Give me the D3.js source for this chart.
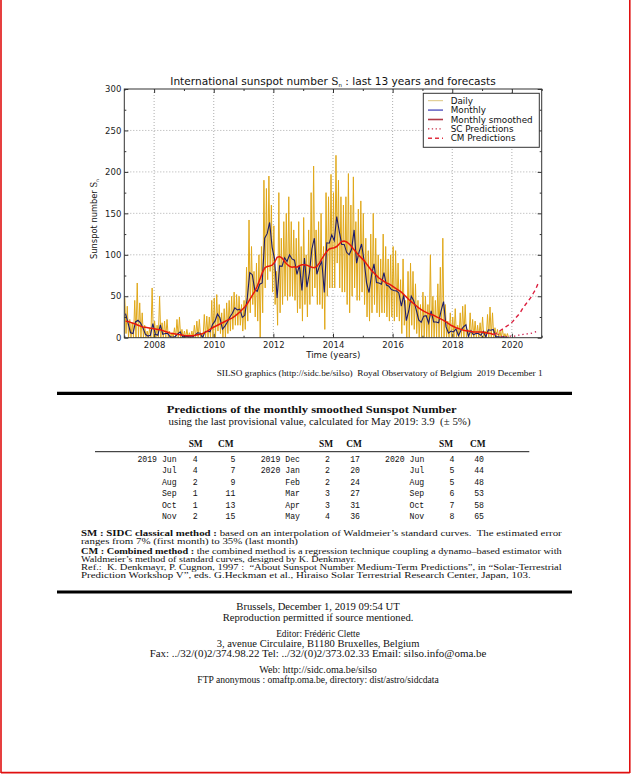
<!DOCTYPE html>
<html>
<head>
<meta charset="UTF-8">
<script src="https://d3js.org/d3.v7.min.js"></script>
<style>
  body { margin: 0; background: #fff; }
  svg { display: block; }
</style>
</head>
<body>
<svg></svg>
<script>
// all series are monthly, starting Jan 2007
const startYear = 2007;

// monthly mean sunspot number, Jan 2007 - Nov 2019
const monthlySN = [
  29, 18, 6, 5, 19, 21, 18, 12, 4, 2, 3, 17,              // 2007
  4, 3, 15.5, 4, 5, 5, 1, 0.5, 1.5, 4.5, 7, 1,            // 2008
  1.5, 1.5, 1, 1.2, 3, 6, 5.5, 0, 7, 8, 7, 16,            // 2009
  20, 28.5, 24, 10.5, 14, 19, 25, 29.5, 36, 33.5, 34.5, 24.5,   // 2010
  27, 48, 78.5, 76, 58, 56, 64.5, 66, 120, 125.5, 139, 109,     // 2011
  94.5, 48, 86.5, 86, 96.5, 92, 100, 95, 93.5, 76.5, 87.5, 57,  // 2012
  96, 61, 78, 107, 120, 76.5, 86, 92, 54.5, 114.5, 114, 124,    // 2013
  117, 146, 128.5, 112.5, 112.5, 103, 100, 107, 130, 90, 103.5, 113, // 2014
  93, 66.5, 54.5, 75.5, 89, 66.5, 66, 64.5, 78.5, 63.5, 62, 58, // 2015
  57, 56.5, 54, 38, 51.5, 20.5, 32.5, 50, 44.5, 33.5, 21.5, 18.5, // 2016
  26, 26.5, 17.5, 32.5, 19, 19, 18, 32.5, 43.5, 13, 5.5, 8,     // 2017
  7, 10.5, 2.5, 9, 13, 15.5, 1.5, 8.5, 3.5, 5, 5, 3,            // 2018
  7.5, 1, 9.5, 9, 10, 1, 1, 0.5, 1, 0.5, 0.5                    // 2019
];

// 13-month smoothed, Jan 2007 - May 2019
const smoothedSN = [
  20, 19.5, 18.5, 17.5, 16.5, 15, 14, 13, 12.5, 12, 11.5, 11,
  10.5, 10, 9.5, 8.5, 7.5, 6.5, 5.5, 5, 4.5, 4, 3.5, 3,
  2.5, 2.5, 2.5, 2.5, 3, 3.5, 4, 5, 6.5, 8, 10, 12,
  13.5, 15, 16.5, 18, 19.5, 21, 22.5, 24, 26, 28.5, 31, 34,
  37, 41, 46, 51, 56, 62, 70, 78, 84, 86, 86.5, 87.5,
  91, 97, 98, 96, 92, 88.5, 86, 85, 85.5, 85, 87, 88,
  88, 87.5, 86, 85, 84.5, 86, 90, 95, 100, 104, 107, 108,
  108.5, 110, 113, 116, 116.5, 115.5, 113, 110, 106, 102.5, 99, 96,
  93, 89, 85, 81, 78, 75, 72, 70, 68, 66, 65, 63,
  61, 59, 57, 55, 52, 49, 46, 43.5, 41, 38.5, 36, 34,
  32, 30.5, 29, 28, 27, 25.5, 24, 22.5, 21, 19, 17, 15,
  13.5, 12, 11, 10, 9, 8.5, 8, 7.5, 7, 7, 7, 6.8,
  6.5, 6, 5.5, 5, 3.9
];

// daily values: highest and lowest day of each month
const dailyHigh = [
  48, 38, 22, 18, 45, 66, 42, 30, 15, 8, 12, 60,
  20, 15, 50, 18, 20, 22, 8, 6, 12, 22, 25, 10,
  8, 10, 6, 8, 15, 20, 22, 5, 28, 26, 25, 45,
  48, 52, 40, 30, 35, 42, 45, 50, 55, 52, 50, 40,
  45, 85, 142, 110, 80, 90, 100, 110, 190, 180, 195, 160,
  135, 80, 175, 120, 140, 150, 170, 140, 130, 120, 140, 110,
  145, 100, 130, 175, 207, 130, 140, 150, 110, 175, 170, 197,
  175, 220, 190, 170, 160, 170, 198, 160, 194, 140, 155, 165,
  150, 120, 105, 125, 150, 120, 100, 95, 125, 110, 95, 100,
  110, 105, 90, 70, 95, 45, 80, 90, 80, 65, 45, 40,
  55, 50, 40, 100, 50, 45, 65, 85, 120, 40, 20, 30,
  25, 35, 15, 30, 38, 40, 10, 30, 22, 20, 15, 18,
  25, 8, 28, 37, 30, 12, 10, 8, 10, 5, 5
];
const dailyLow = [
  5, 0, 0, 0, 0, 0, 0, 0, 0, 0, 0, 0,
  0, 0, 0, 0, 0, 0, 0, 0, 0, 0, 0, 0,
  0, 0, 0, 0, 0, 0, 0, 0, 0, 0, 0, 0,
  0, 8, 5, 0, 0, 5, 8, 10, 15, 15, 15, 8,
  10, 20, 30, 40, 25, 20, 0, 30, 60, 70, 80, 55,
  40, 15, 30, 40, 50, 45, 50, 50, 45, 30, 35, 20,
  40, 25, 40, 50, 60, 40, 40, 35, 10, 50, 60, 60,
  60, 90, 60, 55, 55, 40, 30, 50, 60, 45, 45, 55,
  40, 25, 20, 30, 40, 30, 25, 30, 30, 25, 20, 25,
  20, 25, 20, 5, 15, 0, 0, 15, 10, 5, 0, 0,
  0, 0, 0, 0, 0, 0, 0, 0, 0, 0, 0, 0,
  0, 0, 0, 0, 0, 0, 0, 0, 0, 0, 0, 0,
  0, 0, 0, 0, 0, 0, 0, 0, 0, 0, 0
];

// forecasts Jun 2019 - Nov 2020
const predLabels = ["2019 Jun", "Jul", "Aug", "Sep", "Oct", "Nov",
                    "2019 Dec", "2020 Jan", "Feb", "Mar", "Apr", "May",
                    "2020 Jun", "Jul", "Aug", "Sep", "Oct", "Nov"];
const smPred = [4, 4, 2, 1, 1, 2, 2, 2, 2, 3, 3, 4, 4, 5, 5, 6, 7, 8];
const cmPred = [5, 7, 9, 11, 13, 15, 17, 20, 24, 27, 31, 36, 40, 44, 48, 53, 58, 65];

const xTicks = [2008, 2010, 2012, 2014, 2016, 2018, 2020];
const xMinor = [2007, 2009, 2011, 2013, 2015, 2017, 2019, 2021];
const yTicks = [0, 50, 100, 150, 200, 250, 300];
const yMinor = [25, 75, 125, 175, 225, 275];

const W = 631, H = 774;
const svg = d3.select("svg").attr("width", W).attr("height", H);

// page frame
const frame = svg.append("g").attr("stroke", "#e01010").attr("stroke-width", 1.6);
frame.append("line").attr("x1", 1).attr("x2", 1).attr("y1", 0).attr("y2", 773);
frame.append("line").attr("x1", 629.8).attr("x2", 629.8).attr("y1", 0).attr("y2", 773);
frame.append("line").attr("x1", 1).attr("x2", 629.8).attr("y1", 772.6).attr("y2", 772.6);

// ---------- plot ----------
const pL = 124.3, pR = 541.7, pT = 89, pB = 337.7;
const x = d3.scaleLinear().domain([2007, 2021]).range([pL, pR]);
const y = d3.scaleLinear().domain([0, 300]).range([pB, pT]);

const sans = "DejaVu Sans, sans-serif";
const plot = svg.append("g");

plot.append("defs").append("clipPath").attr("id", "clip")
  .append("rect").attr("x", pL).attr("y", pT).attr("width", pR - pL).attr("height", pB - pT);

// grid
plot.append("g").selectAll("line").data(xTicks).join("line")
  .attr("x1", d => x(d)).attr("x2", d => x(d)).attr("y1", pT).attr("y2", pB)
  .attr("stroke", "#777").attr("stroke-width", 0.6).attr("stroke-dasharray", "1,2");
plot.append("g").selectAll("line").data(yTicks.slice(1, -1)).join("line")
  .attr("x1", pL).attr("x2", pR).attr("y1", d => y(d)).attr("y2", d => y(d))
  .attr("stroke", "#777").attr("stroke-width", 0.6).attr("stroke-dasharray", "1,2");

const tm = i => startYear + i / 12;
const dailyPts = [];
dailyHigh.forEach((h, i) => {
  dailyPts.push([tm(i + 0.2), h]);
  dailyPts.push([tm(i + 0.7), dailyLow[i]]);
});
const line = d3.line().x(d => x(d[0])).y(d => y(d[1]));
const series = plot.append("g").attr("clip-path", "url(#clip)").attr("fill", "none");

series.append("path").attr("d", line(dailyPts))
  .attr("stroke", "#e0a81a").attr("stroke-width", 1.0).attr("stroke-linejoin", "round");
series.append("path").attr("d", line(monthlySN.map((v, i) => [tm(i + 0.5), v])))
  .attr("stroke", "#1c1c6c").attr("stroke-width", 1.1);
series.append("path").attr("d", line(smoothedSN.map((v, i) => [tm(i + 0.5), v])))
  .attr("stroke", "#e8180c").attr("stroke-width", 1.5);

const p0 = [tm(smoothedSN.length - 0.5), smoothedSN[smoothedSN.length - 1]];
const predT = i => tm(smoothedSN.length + i + 0.5);
series.append("path").attr("d", line([p0].concat(smPred.map((v, i) => [predT(i), v]))))
  .attr("stroke", "#cc1848").attr("stroke-width", 1.3).attr("stroke-dasharray", "1.3,3");
series.append("path").attr("d", line([p0].concat(cmPred.map((v, i) => [predT(i), v]))))
  .attr("stroke", "#dc1f3f").attr("stroke-width", 1.4).attr("stroke-dasharray", "4,3.2");

// axes (ticks inside on all sides)
function styleAxis(g) {
  g.select(".domain").remove();
  g.selectAll("line").attr("stroke", "#333");
  g.selectAll("text").attr("font-family", sans).attr("font-size", "8.5px").attr("fill", "#222");
}
plot.append("g").attr("transform", `translate(0,${pB})`)
  .call(d3.axisBottom(x).tickValues(xTicks).tickSize(-4).tickPadding(4).tickFormat(d3.format("d"))).call(styleAxis);
plot.append("g").attr("transform", `translate(0,${pB})`)
  .call(d3.axisBottom(x).tickValues(xMinor).tickSize(-2).tickFormat("")).call(styleAxis);
plot.append("g").attr("transform", `translate(0,${pT})`)
  .call(d3.axisTop(x).tickValues(xTicks).tickSize(-4).tickFormat("")).call(styleAxis);
plot.append("g").attr("transform", `translate(0,${pT})`)
  .call(d3.axisTop(x).tickValues(xMinor).tickSize(-2).tickFormat("")).call(styleAxis);
plot.append("g").attr("transform", `translate(${pL},0)`)
  .call(d3.axisLeft(y).tickValues(yTicks).tickSize(-4).tickPadding(3)).call(styleAxis);
plot.append("g").attr("transform", `translate(${pL},0)`)
  .call(d3.axisLeft(y).tickValues(yMinor).tickSize(-2).tickFormat("")).call(styleAxis);
plot.append("g").attr("transform", `translate(${pR},0)`)
  .call(d3.axisRight(y).tickValues(yTicks).tickSize(-4).tickFormat("")).call(styleAxis);
plot.append("g").attr("transform", `translate(${pR},0)`)
  .call(d3.axisRight(y).tickValues(yMinor).tickSize(-2).tickFormat("")).call(styleAxis);

plot.append("rect").attr("x", pL).attr("y", pT).attr("width", pR - pL).attr("height", pB - pT)
  .attr("fill", "none").attr("stroke", "#333").attr("stroke-width", 1);

// title and labels
const title = plot.append("text").attr("x", 333).attr("y", 85).attr("text-anchor", "middle")
  .attr("font-family", sans).attr("font-size", "10.6px").attr("fill", "#111");
title.append("tspan").text("International sunspot number ");
title.append("tspan").attr("font-family", "DejaVu Serif, serif").text("S");
title.append("tspan").attr("font-size", "5.5px").attr("dy", 2).text("n");
title.append("tspan").attr("dy", -2).text(" : last 13 years and forecasts");

const ylab = plot.append("text").attr("transform", "translate(97,219) rotate(-90)")
  .attr("text-anchor", "middle").attr("font-family", sans).attr("font-size", "8.3px").attr("fill", "#111");
ylab.append("tspan").text("Sunspot number ");
ylab.append("tspan").attr("font-family", "DejaVu Serif, serif").text("S");
ylab.append("tspan").attr("font-size", "4.5px").attr("dy", 1.8).text("n");

plot.append("text").attr("x", 333.3).attr("y", 358.3).attr("text-anchor", "middle")
  .attr("font-family", sans).attr("font-size", "8.6px").attr("fill", "#111").text("Time (years)");

// legend
const legendItems = [
  { label: "Daily", color: "#d8c070", width: 0.9, dash: null },
  { label: "Monthly", color: "#6a6ac8", width: 1.6, dash: null },
  { label: "Monthly smoothed", color: "#b03a48", width: 1.6, dash: null },
  { label: "SC Predictions", color: "#c83048", width: 1.4, dash: "1.3,2.5" },
  { label: "CM Predictions", color: "#e03040", width: 1.4, dash: "4,3" }
];
const lg = plot.append("g");
lg.append("rect").attr("x", 423.3).attr("y", 93.3).attr("width", 116).attr("height", 54)
  .attr("fill", "#fff").attr("stroke", "#333").attr("stroke-width", 1);
const ly = d3.scaleLinear().domain([0, 4]).range([100.7, 138.3]);
const li = lg.selectAll("g").data(legendItems).join("g").attr("transform", (d, i) => `translate(0,${ly(i)})`);
li.append("line").attr("x1", 428).attr("x2", 443).attr("stroke", d => d.color)
  .attr("stroke-width", d => d.width).attr("stroke-dasharray", d => d.dash);
li.append("text").attr("x", 450.7).attr("dy", "0.35em").attr("font-family", sans)
  .attr("font-size", "8.8px").attr("fill", "#111").text(d => d.label);

// ---------- text block ----------
const serif = "Liberation Serif, Times New Roman, serif";
const mono = "Liberation Mono, DejaVu Sans Mono, monospace";
function fit(t, w) { t.attr("textLength", w).attr("lengthAdjust", "spacingAndGlyphs"); return t; }

svg.append("text").attr("x", 542.7).attr("y", 376).attr("text-anchor", "end")
  .attr("font-family", serif).attr("font-size", "8.6px").attr("fill", "#111")
  .text("SILSO graphics (http://sidc.be/silso)  Royal Observatory of Belgium  2019 December 1")
  .attr("xml:space", "preserve")
  .call(t => fit(t, 326));

svg.append("line").attr("x1", 57).attr("x2", 572).attr("y1", 393.3).attr("y2", 393.3)
  .attr("stroke", "#000").attr("stroke-width", 3.2);
svg.append("line").attr("x1", 57).attr("x2", 572).attr("y1", 592).attr("y2", 592)
  .attr("stroke", "#000").attr("stroke-width", 3.2);

svg.append("text").attr("x", 311.7).attr("y", 412.7).attr("text-anchor", "middle")
  .attr("font-family", serif).attr("font-weight", "bold").attr("font-size", "11px").attr("fill", "#111")
  .text("Predictions of the monthly smoothed Sunspot Number").call(t => fit(t, 290));
svg.append("text").attr("x", 319.5).attr("y", 425).attr("text-anchor", "middle")
  .attr("font-family", serif).attr("font-size", "10px").attr("fill", "#111").attr("xml:space", "preserve")
  .text("using the last provisional value, calculated for May 2019: 3.9  (\u00b1 5%)").call(t => fit(t, 302));

// table
const cols = [
  { date: 176.7, sm: 197.7, cm: 235.3, smH: 195.7, cmH: 225.7 },
  { date: 300, sm: 330, cm: 360, smH: 326, cmH: 354 },
  { date: 424.3, sm: 454.3, cm: 484, smH: 446, cmH: 477.7 }
];
const rowY = d3.scaleLinear().domain([0, 5]).range([461.7, 519]);
const tbl = svg.append("g").attr("fill", "#111");
cols.forEach(c => {
  tbl.append("text").attr("x", c.smH).attr("y", 446.7).attr("text-anchor", "middle")
    .attr("font-family", serif).attr("font-weight", "bold").attr("font-size", "9.4px").text("SM");
  tbl.append("text").attr("x", c.cmH).attr("y", 446.7).attr("text-anchor", "middle")
    .attr("font-family", serif).attr("font-weight", "bold").attr("font-size", "9.4px").text("CM");
});
tbl.append("line").attr("x1", 95).attr("x2", 529.3).attr("y1", 451.7).attr("y2", 451.7)
  .attr("stroke", "#000").attr("stroke-width", 0.9);
predLabels.forEach((lab, i) => {
  const c = cols[Math.floor(i / 6)], yy = rowY(i % 6);
  const g = tbl.append("g").attr("font-family", mono).attr("font-size", "8.2px").attr("text-anchor", "end");
  g.append("text").attr("x", c.date).attr("y", yy).text(lab);
  g.append("text").attr("x", c.sm).attr("y", yy).text(smPred[i]);
  g.append("text").attr("x", c.cm).attr("y", yy).text(cmPred[i]);
});

// notes
const notes = [
  { y: 535.7, w: 480.7, parts: [["SM : SIDC classical method :", true], [" based on an interpolation of Waldmeier\u2019s standard curves.  The estimated error", false]] },
  { y: 544, w: 217, parts: [["ranges from 7% (first month) to 35% (last month)", false]] },
  { y: 554, w: 480.7, parts: [["CM : Combined method :", true], [" the combined method is a regression technique coupling a dynamo\u2013based estimator with", false]] },
  { y: 561.7, w: 275, parts: [["Waldmeier\u2019s method of standard curves, designed by K. Denkmayr.", false]] },
  { y: 570, w: 480.7, parts: [["Ref.:  K. Denkmayr, P. Cugnon, 1997 :  \u201cAbout Sunspot Number Medium-Term Predictions\u201d, in \u201cSolar-Terrestrial", false]] },
  { y: 578.3, w: 449.7, parts: [["Prediction Workshop V\u201d, eds. G.Heckman et al., Hiraiso Solar Terrestrial Research Center, Japan, 103.", false]] }
];
notes.forEach(n => {
  const t = svg.append("text").attr("x", 81).attr("y", n.y).attr("font-family", serif)
    .attr("font-size", "8px").attr("fill", "#111").attr("xml:space", "preserve");
  n.parts.forEach(p => t.append("tspan").attr("font-weight", p[1] ? "bold" : null).text(p[0]));
  fit(t, n.w);
});

// footer
const footer = [
  { y: 610, w: 163.3, s: "Brussels, December 1, 2019 09:54 UT" },
  { y: 620.7, w: 190.7, s: "Reproduction permitted if source mentioned." },
  { y: 637.3, w: 83.7, s: "Editor: Fr\u00e9d\u00e9ric Clette" },
  { y: 647.3, w: 202.7, s: "3, avenue Circulaire, B1180 Bruxelles, Belgium" },
  { y: 657.3, w: 336.7, s: "Fax: ../32/(0)2/374.98.22 Tel: ../32/(0)2/373.02.33 Email: silso.info@oma.be" },
  { y: 673.3, w: 117.7, s: "Web: http://sidc.oma.be/silso" },
  { y: 683.3, w: 241.3, s: "FTP anonymous : omaftp.oma.be, directory: dist/astro/sidcdata" }
];
footer.forEach(f => {
  svg.append("text").attr("x", 318).attr("y", f.y).attr("text-anchor", "middle")
    .attr("font-family", serif).attr("font-size", "9.6px").attr("fill", "#111")
    .text(f.s).call(t => fit(t, f.w));
});
</script>
</body>
</html>
